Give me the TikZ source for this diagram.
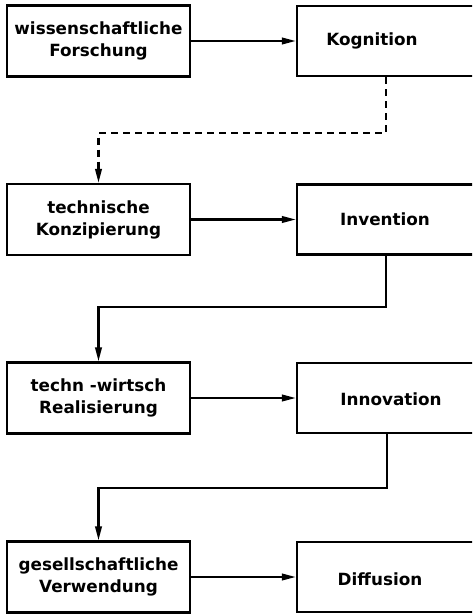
\documentclass[tikz,border=0pt]{standalone}
\usepackage{fontspec}
\setmainfont{DejaVu Sans}[BoldFont={DejaVu Sans Bold}]
\usetikzlibrary{arrows.meta}
\begin{document}
\begin{tikzpicture}[x=1pt,y=-1pt,
  font=\fontsize{16.8}{22}\selectfont\bfseries,
  lbox/.style={draw,line width=2.2pt,minimum width=183pt,minimum height=71pt,
               inner sep=0pt,align=center},
  rbox/.style={draw,line width=2.2pt,minimum width=190pt,minimum height=70pt,
               inner sep=0pt},
  txt/.style={inner sep=0pt},
  link/.style={line width=2.2pt,-{Triangle[length=14pt,width=6.5pt]}},
  dlink/.style={link,dash pattern=on 7pt off 5pt}
]
\path[use as bounding box,clip] (0,0) rectangle (472,615);
\fill[white] (0,0) rectangle (472,615);

% left column
\node[lbox] (wf) at (98.5,41)  {wissenschaftliche\\Forschung};
\node[lbox] (tk) at (98.5,219.5) {technische\\Konzipierung};
\node[lbox] (tw) at (98.5,398) {techn -wirtsch\\Realisierung};
\node[lbox] (gv) at (98.5,577) {gesellschaftliche\\Verwendung};

% right column (boxes run off the right edge)
\node[rbox] (kog) at (392,41)  {};
\node[rbox] (inv) at (392,219.5) {};
\node[rbox] (inn) at (392,398) {};
\node[rbox] (dif) at (392,577) {};
\node[txt] (tkog) at (372,41)  {Kognition};
\node[txt] (tinv) at (385,219) {Invention};
\node[txt] (tinn) at (391,399) {Innovation};
\node[txt] (tdif) at (380,579) {Diffusion};

% horizontal arrows
\draw[link] (wf.east) -- (kog.west);
\draw[link] (tk.east) -- (inv.west);
\draw[link] (tw.east) -- (inn.west);
\draw[link] (gv.east) -- (dif.west);

% connectors down to the next row
\coordinate (c1) at (386,133);
\coordinate (c2) at (386,307);
\coordinate (c3) at (387,488);
\draw[dlink] (kog.south -| c1) -- (c1) -- (c1 -| tk.north) -- (tk.north);
\draw[link]  (inv.south -| c2) -- (c2) -- (c2 -| tw.north) -- (tw.north);
\draw[link]  (inn.south -| c3) -- (c3) -- (c3 -| gv.north) -- (gv.north);
\end{tikzpicture}
\end{document}
